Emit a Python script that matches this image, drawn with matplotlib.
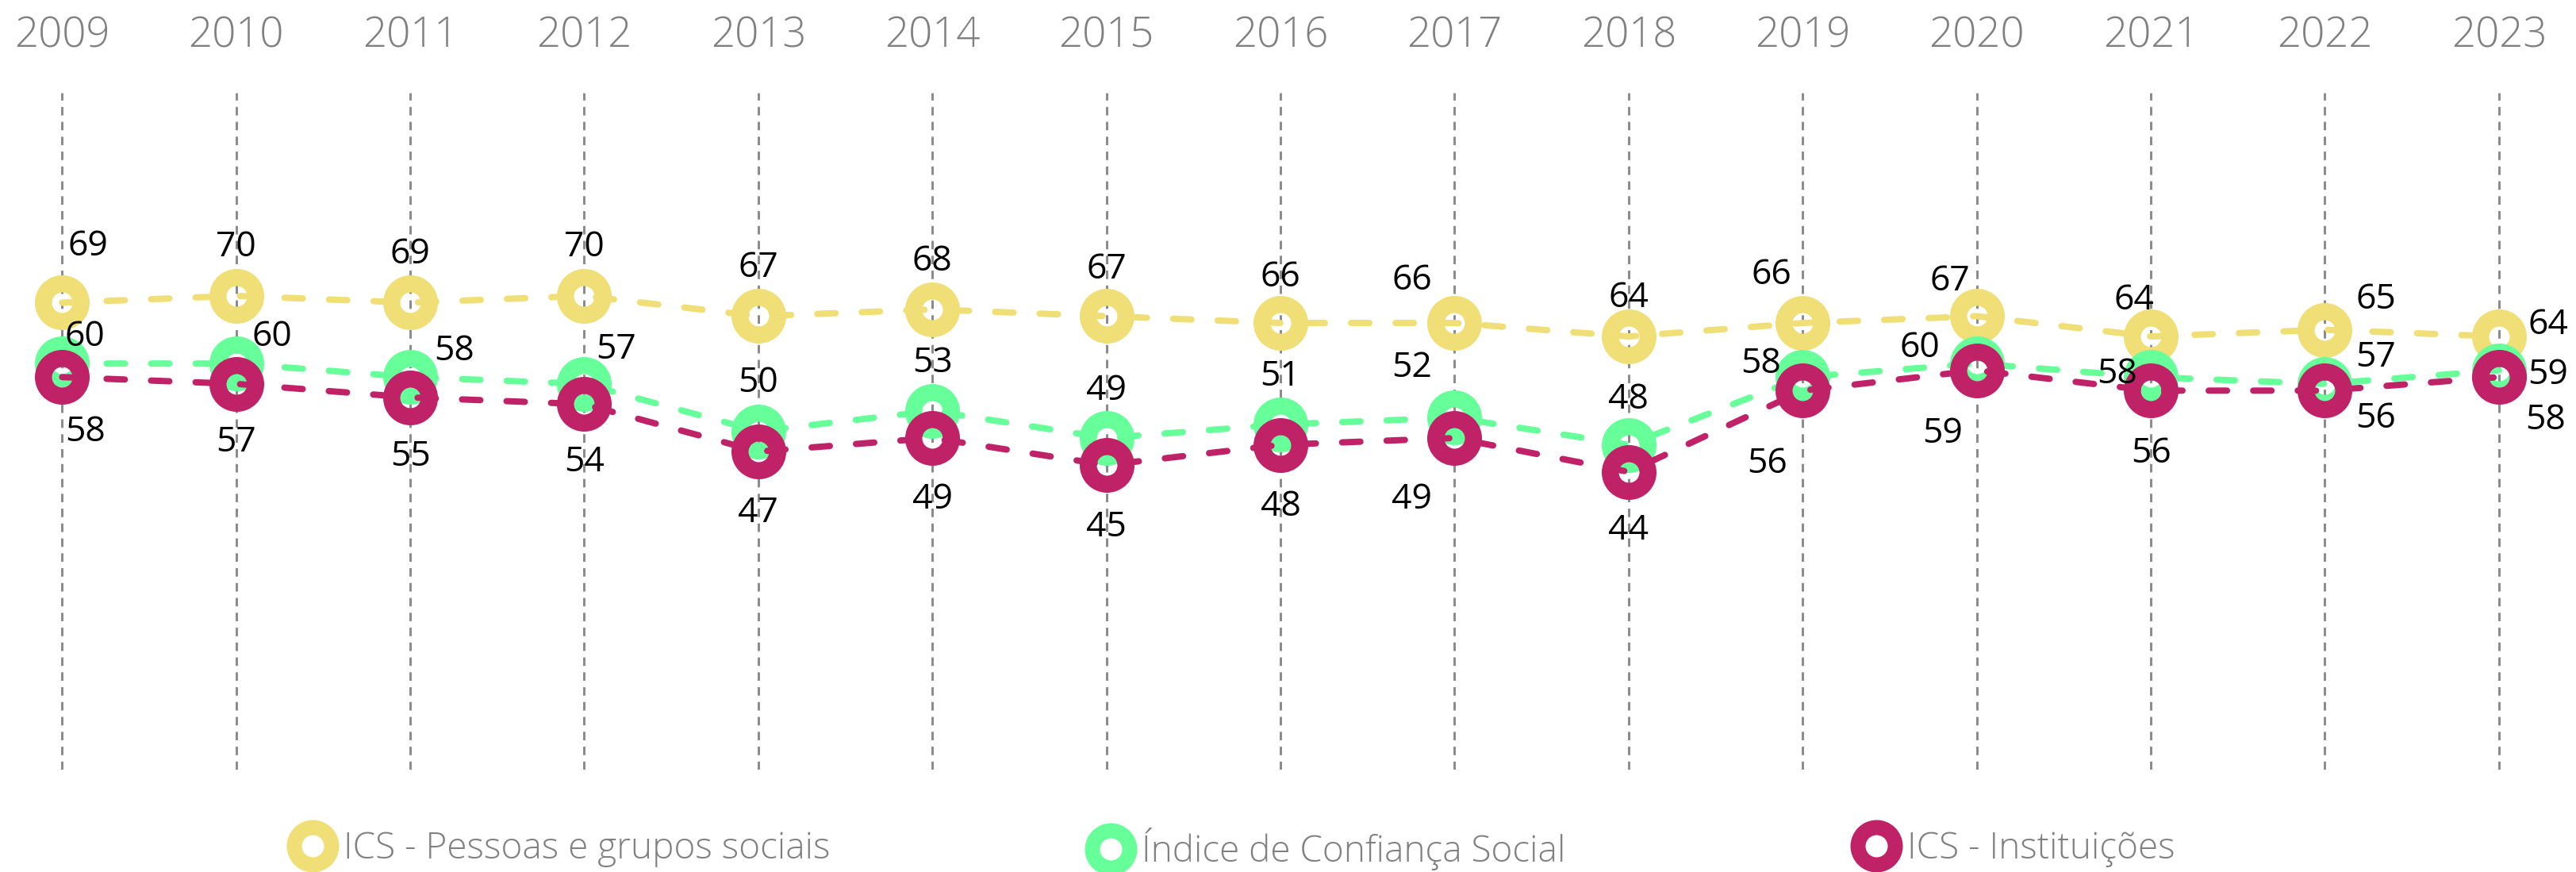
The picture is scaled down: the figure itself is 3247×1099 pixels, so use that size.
import matplotlib
matplotlib.use("Agg")
import matplotlib.pyplot as plt
from matplotlib.lines import Line2D

# ---- data ----
years = [2009, 2010, 2011, 2012, 2013, 2014, 2015, 2016, 2017, 2018, 2019, 2020, 2021, 2022, 2023]
ics_pessoas = [69, 70, 69, 70, 67, 68, 67, 66, 66, 64, 66, 67, 64, 65, 64]
indice_confianca = [60, 60, 58, 57, 50, 53, 49, 51, 52, 48, 58, 60, 58, 57, 59]
ics_instituicoes = [58, 57, 55, 54, 47, 49, 45, 48, 49, 44, 56, 59, 56, 56, 58]
series_names = ["ICS - Pessoas e grupos sociais", "Índice de Confiança Social", "ICS - Instituições"]

# ---- style ----
colors = ["#F0DE76", "#66FF99", "#C02268"]
GRAY = "#808080"
DPI = 100
W, H = 3247, 1099
PX = 72.0 / DPI  # points per pixel

# label offsets (pixels, dx right, dy down) from marker centre to label centre
label_offsets = [
    [(33, -75), (0, -66), (0, -65), (0, -66), (0, -65), (0, -65), (0, -63), (0, -62),
     (-54, -58), (0, -53), (-39, -65), (-34, -48), (-21, -50), (64, -43), (62, -19)],
    [(29, -38), (45, -38), (55, -37), (40, -48), (0, -65), (0, -65), (0, -64), (0, -65),
     (-54, -67), (0, -62), (-53, -21), (-72, -24), (-43, -8), (64, -38), (62, 1)],
    [(29, 65), (0, 69), (0, 70), (0, 69), (0, 73), (0, 73), (0, 74), (0, 73),
     (-54, 73), (0, 69), (-45, 88), (-43, 75), (0, 75), (64, 31), (59, 50)],
]

plt.rcParams["font.family"] = ["Open Sans", "DejaVu Sans"]

fig = plt.figure(figsize=(W / DPI, H / DPI), dpi=DPI)
fig.patch.set_facecolor("white")

# axes: y 0 at 970px, 100 at 117px from top; x: 2009 at 78.3px, step 219.4px
ax_bottom = 1 - 970 / H
ax_top = 1 - 117 / H
ax = fig.add_axes([0, ax_bottom, 1, ax_top - ax_bottom])
step = 219.4
x0 = years[0] - 78.3 / step
x1 = years[0] + (W - 78.3) / step
ax.set_xlim(x0, x1)
ax.set_ylim(0, 100)
for s in ax.spines.values():
    s.set_visible(False)
ax.set_yticks([])
ax.set_xticks(years)
ax.xaxis.tick_top()
ax.set_xticklabels([str(y) for y in years], fontsize=38, color=GRAY, fontweight="light")
ax.tick_params(axis="x", length=0, pad=32)
ax.grid(axis="x", color="#8c8c8c", linewidth=3 * PX, linestyle=(0, (7.7 / (3 * PX), 5.8 / (3 * PX))))
ax.set_axisbelow(True)

# markers: outer 69px, hole 26px
outer, hole = 69 * PX, 26 * PX
ms = (outer + hole) / 2
mew = (outer - hole) / 2
lw = 8 * PX
dash = (16.6 / lw, 23.8 / lw)

all_series = [ics_pessoas, indice_confianca, ics_instituicoes]
for k, (vals, col) in enumerate(zip(all_series, colors)):
    ln, = ax.plot(years, vals, color=col, linewidth=lw, marker="o", markersize=ms,
                  markeredgewidth=mew, markerfacecolor="none", markeredgecolor=col,
                  dash_capstyle="round", zorder=3 + k)
    ln.set_dashes(dash)
    for x, v, (dx, dy) in zip(years, vals, label_offsets[k]):
        ax.annotate(str(v), (x, v), xytext=(dx * PX, -(dy + 16) * PX),
                    textcoords="offset points", ha="center", va="baseline",
                    fontsize=32, color="black", zorder=10)

# legend
leg_x = [394, 1400, 2365]
leg_y = 1070
leg_fs = 33
lo, lh = 66 * PX, 28 * PX
lms = (lo + lh) / 2
lmew = (lo - lh) / 2
half_handle_px = leg_fs / PX / 2
for name, col, lx in zip(series_names, colors, leg_x):
    h = Line2D([], [], linestyle="none", marker="o", markersize=lms, markeredgewidth=lmew,
               markerfacecolor="none", markeredgecolor=col)
    leg = fig.legend([h], [name], loc="center left",
                     bbox_to_anchor=((lx - half_handle_px) / W, 1 - leg_y / H),
                     frameon=False, borderpad=0, borderaxespad=0, handlelength=1.0,
                     handletextpad=0.35, prop={"size": leg_fs, "weight": "light"},
                     labelcolor=GRAY)

fig.savefig("out.png", dpi=DPI, facecolor="white")
